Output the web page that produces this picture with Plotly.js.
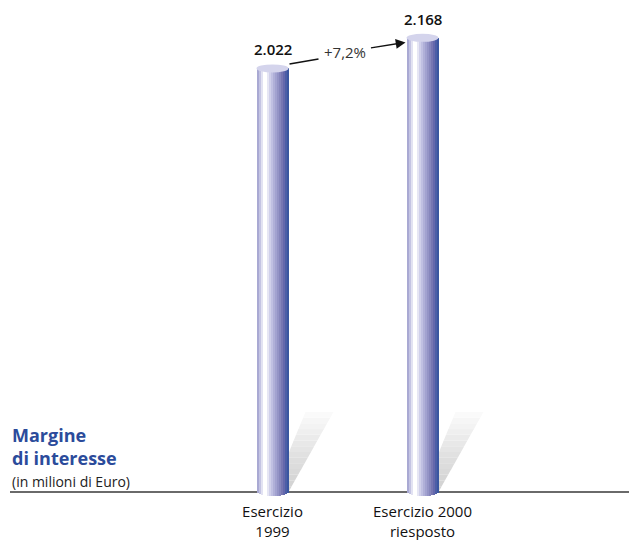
<!DOCTYPE html>
<html>
<head>
<meta charset="utf-8">
<script src="https://cdn.plot.ly/plotly-3.0.1.min.js"></script>
<style>html,body{margin:0;padding:0;background:#fff;}#chart{width:629px;height:540px;}</style>
</head>
<body>
<div id="chart"></div>
<script>
// ---- data ----
const categories = ["Esercizio<br>1999", "Esercizio 2000<br>riesposto"];
const values = [2022, 2168];
const valueLabels = ["2.022", "2.168"];
const changeLabel = "+7,2%";
const titleLines = ["Margine", "di interesse"];
const unitLabel = "(in milioni di Euro)";

// ---- style ----
const FONT = "Open Sans, Lato, sans-serif";
const barColors = ["#a9a9d3","#c4c4e3","#e2e2f2","#ffffff","#ffffff","#e6e6f4","#d0d0ea","#c0c0e2",
                   "#b0b0d8","#a2a2d0","#9494c6","#8686bc","#7676b2","#6468ac","#4c5ea6","#3a56a0"];
const pxPerX = 150;          // pixels per category unit
const pxPerY = 0.2095;       // pixels per value unit
const barW = 32 / pxPerX;    // bar width in x units
const capH = 4 / pxPerY;     // half height of ellipse in y units
const n = barColors.length;
const sw = barW / n;

const xs = categories.map((_, i) => i);
const traces = barColors.map((c, k) => {
  const off = -barW / 2 + k * sw;
  const dx = off + sw / 2;
  const r = 2 * dx / barW;
  const b = -capH * Math.sqrt(Math.max(0, 1 - r * r));
  return {
    type: "bar", x: xs, y: values.map(v => v - b), base: values.map(() => b),
    width: sw * 1.04, offset: off, marker: {color: c, line: {width: 0}},
    hoverinfo: "skip", showlegend: false
  };
});

const shapes = [];
// shadows (below), soft gradient fading upward
xs.forEach(i => {
  const segs = 14;
  const hY = 80 / pxPerY;
  for (let s = 0; s < segs; s++) {
    const f0 = s / segs, f1 = (s + 1) / segs;
    const g = Math.round(210 + 42 * Math.pow((s + 0.5) / segs, 1.3));
    const lx = t => i + (t * 33) / pxPerX;
    const rx = t => i + (16 + t * 45) / pxPerX;
    const y0 = f0 * hY, y1 = f1 * hY + 0.3;
    shapes.push({
      type: "path", xref: "x", yref: "y", layer: "below", line: {width: 0},
      fillcolor: `rgb(${g},${g},${g})`,
      path: `M ${lx(f0)} ${y0} L ${rx(f0)} ${y0} L ${rx(f1)} ${y1} L ${lx(f1)} ${y1} Z`
    });
  }
});
// top caps
xs.forEach(i => {
  shapes.push({type: "circle", xref: "x", yref: "y", layer: "above",
    x0: i - barW / 2, x1: i + barW / 2, y0: values[i] - capH, y1: values[i] + capH,
    fillcolor: "#d4d4ec", line: {width: 0}});
});
// connector from bar 1 to change label
shapes.push({type: "line", xref: "x", yref: "y", layer: "above",
  x0: xs[0] + 17 / pxPerX, y0: values[0] + 21, x1: xs[0] + 46 / pxPerX, y1: values[0] + 45,
  line: {color: "#111", width: 1.5}});

const annotations = [];
xs.forEach(i => {
  annotations.push({x: i, y: values[i], xref: "x", yref: "y", text: valueLabels[i], showarrow: false,
    yanchor: "bottom", yshift: 7, font: {family: FONT, size: 15, color: "#111", weight: 600}});
});
annotations.push({
  x: xs[1] - barW / 2 - 1 / pxPerX, y: values[1] - 22, xref: "x", yref: "y",
  ax: xs[0] + 72 / pxPerX, ay: values[0] + 78, axref: "x", ayref: "y",
  text: changeLabel, showarrow: true, arrowhead: 2, arrowsize: 1.3, arrowwidth: 1.5, arrowcolor: "#111",
  startstandoff: 4, font: {family: FONT, size: 15, color: "#333"}
});
annotations.push({xref: "paper", yref: "paper", x: 0, y: (498 - 446) / 498, xanchor: "left", yanchor: "middle",
  xshift: 0, align: "left", showarrow: false,
  text: "<b>" + titleLines.join("<br>") + "</b>", font: {family: FONT, size: 18, color: "#2b4b9b"}});
annotations.push({xref: "paper", yref: "paper", x: 0, y: (498 - 481) / 498, xanchor: "left", yanchor: "middle",
  xshift: 0, align: "left", showarrow: false,
  text: unitLabel, font: {family: FONT, size: 14, color: "#222"}});

const layout = {
  width: 629, height: 540,
  margin: {l: 10, r: 0, t: 0, b: 42},
  paper_bgcolor: "#fff", plot_bgcolor: "#fff",
  barmode: "overlay", bargap: 0,
  xaxis: {range: [-(272.5 - 10) / pxPerX, (629 - 272.5) / pxPerX], tickvals: xs, ticktext: categories,
    showgrid: false, zeroline: false, showline: false, ticks: "", ticklabelstandoff: 3,
    tickfont: {family: FONT, size: 15, color: "#111"}, fixedrange: true},
  yaxis: {range: [-6 / pxPerY, 492 / pxPerY], showgrid: false, showticklabels: false, ticks: "",
    zeroline: true, zerolinecolor: "#6a6a6a", zerolinewidth: 1.5, layer: "below traces", fixedrange: true},
  shapes: shapes, annotations: annotations,
  font: {family: FONT}
};

Plotly.newPlot("chart", traces, layout, {displayModeBar: false, staticPlot: true});
</script>
</body>
</html>
